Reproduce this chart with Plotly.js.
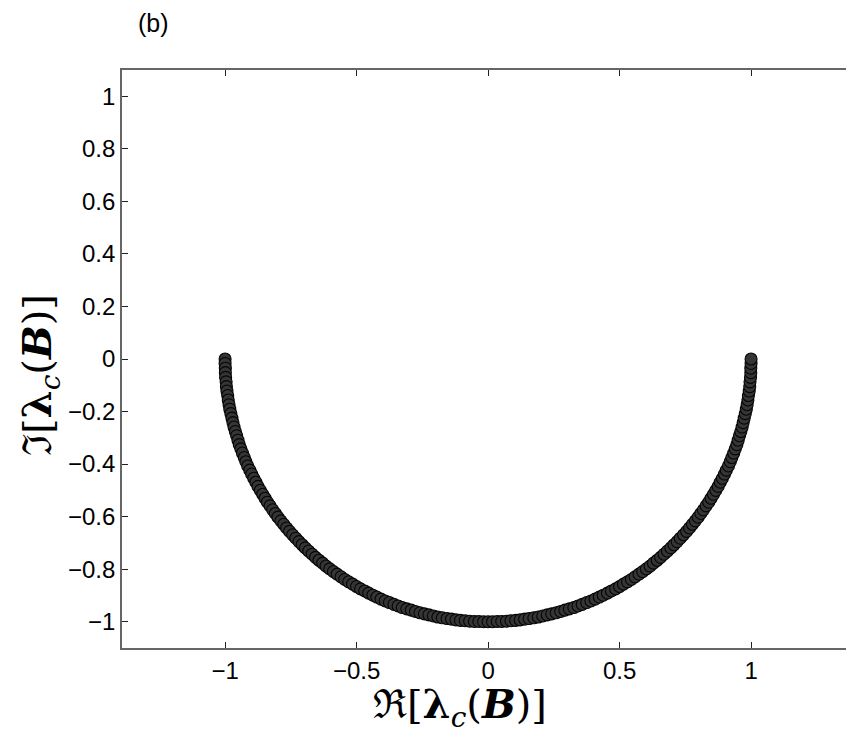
<!DOCTYPE html>
<html>
<head>
<meta charset="utf-8">
<script src="https://cdn.plot.ly/plotly-3.0.1.min.js"></script>
<style>html,body{margin:0;padding:0;background:#fff;}</style>
</head>
<body>
<div id="chart" style="width:846px;height:731px;"></div>
<script>
var reParts = [-1.000,-1.000,-0.999,-0.999,-0.998,-0.996,-0.995,-0.993,-0.990,-0.988,-0.985,-0.982,-0.978,-0.974,-0.970,-0.966,-0.961,-0.956,-0.951,-0.946,-0.940,-0.934,-0.927,-0.921,-0.914,-0.906,-0.899,-0.891,-0.883,-0.875,-0.866,-0.857,-0.848,-0.839,-0.829,-0.819,-0.809,-0.799,-0.788,-0.777,-0.766,-0.755,-0.743,-0.731,-0.719,-0.707,-0.695,-0.682,-0.669,-0.656,-0.643,-0.629,-0.616,-0.602,-0.588,-0.574,-0.559,-0.545,-0.530,-0.515,-0.500,-0.485,-0.469,-0.454,-0.438,-0.423,-0.407,-0.391,-0.375,-0.358,-0.342,-0.326,-0.309,-0.292,-0.276,-0.259,-0.242,-0.225,-0.208,-0.191,-0.174,-0.156,-0.139,-0.122,-0.105,-0.087,-0.070,-0.052,-0.035,-0.017,0.000,
  0.017,0.035,0.052,0.070,0.087,0.105,0.122,0.139,0.156,0.174,0.191,0.208,0.225,0.242,0.259,0.276,0.292,0.309,0.326,0.342,0.358,0.375,0.391,0.407,0.423,0.438,0.454,0.469,0.485,0.500,0.515,0.530,0.545,0.559,0.574,0.588,0.602,0.616,0.629,0.643,0.656,0.669,0.682,0.695,0.707,0.719,0.731,0.743,0.755,0.766,0.777,0.788,0.799,0.809,0.819,0.829,0.839,0.848,0.857,0.866,0.875,0.883,0.891,0.899,0.906,0.914,0.921,0.927,0.934,0.940,0.946,0.951,0.956,0.961,0.966,0.970,0.974,0.978,0.982,0.985,0.988,0.990,0.993,0.995,0.996,0.998,0.999,0.999,1.000,1.000];
var imParts = [0.000,-0.017,-0.035,-0.052,-0.070,-0.087,-0.105,-0.122,-0.139,-0.156,-0.174,-0.191,-0.208,-0.225,-0.242,-0.259,-0.276,-0.292,-0.309,-0.326,-0.342,-0.358,-0.375,-0.391,-0.407,-0.423,-0.438,-0.454,-0.469,-0.485,-0.500,-0.515,-0.530,-0.545,-0.559,-0.574,-0.588,-0.602,-0.616,-0.629,-0.643,-0.656,-0.669,-0.682,-0.695,-0.707,-0.719,-0.731,-0.743,-0.755,-0.766,-0.777,-0.788,-0.799,-0.809,-0.819,-0.829,-0.839,-0.848,-0.857,-0.866,-0.875,-0.883,-0.891,-0.899,-0.906,-0.914,-0.921,-0.927,-0.934,-0.940,-0.946,-0.951,-0.956,-0.961,-0.966,-0.970,-0.974,-0.978,-0.982,-0.985,-0.988,-0.990,-0.993,-0.995,-0.996,-0.998,-0.999,-0.999,-1.000,-1.000,
  -1.000,-0.999,-0.999,-0.998,-0.996,-0.995,-0.993,-0.990,-0.988,-0.985,-0.982,-0.978,-0.974,-0.970,-0.966,-0.961,-0.956,-0.951,-0.946,-0.940,-0.934,-0.927,-0.921,-0.914,-0.906,-0.899,-0.891,-0.883,-0.875,-0.866,-0.857,-0.848,-0.839,-0.829,-0.819,-0.809,-0.799,-0.788,-0.777,-0.766,-0.755,-0.743,-0.731,-0.719,-0.707,-0.695,-0.682,-0.669,-0.656,-0.643,-0.629,-0.616,-0.602,-0.588,-0.574,-0.559,-0.545,-0.530,-0.515,-0.500,-0.485,-0.469,-0.454,-0.438,-0.423,-0.407,-0.391,-0.375,-0.358,-0.342,-0.326,-0.309,-0.292,-0.276,-0.259,-0.242,-0.225,-0.208,-0.191,-0.174,-0.156,-0.139,-0.122,-0.105,-0.087,-0.070,-0.052,-0.035,-0.017,0.000];

var xTickVals = [-1, -0.5, 0, 0.5, 1];
var xTickText = ["\u22121", "\u22120.5", "0", "0.5", "1"];
var yTickVals = [-1, -0.8, -0.6, -0.4, -0.2, 0, 0.2, 0.4, 0.6, 0.8, 1];
var yTickText = ["\u22121", "\u22120.8", "\u22120.6", "\u22120.4", "\u22120.2", "0", "0.2", "0.4", "0.6", "0.8", "1"];
var panelLabel = "(b)";
var xTitle = "\u211C[<b>\u03BB</b><sub><i>c</i></sub>(<b><i>B</i></b>)]";
var yTitle = "\u2111[<b>\u03BB</b><sub><i>c</i></sub>(<b><i>B</i></b>)]";

var traces = [
  {
    x: reParts, y: imParts, type: 'scatter', mode: 'markers',
    marker: {symbol: 'circle', size: 12, color: '#353535', line: {width: 1.1, color: '#050505'}},
    showlegend: false
  }
];

var tickFont = {family: 'Liberation Sans, Arial, sans-serif', size: 24, color: '#000'};
var titleFont = {family: 'DejaVu Serif, Liberation Serif, serif', size: 40, color: '#000'};
var layout = {
  width: 846, height: 731,
  paper_bgcolor: '#fff', plot_bgcolor: '#fff',
  margin: {l: 122, r: 0, t: 70, b: 83},
  showlegend: false,
  xaxis: {
    range: [-1.392, 1.361],
    tickvals: xTickVals, ticktext: xTickText,
    ticks: 'inside', ticklen: 6, tickwidth: 1, tickcolor: '#222',
    showline: true, linecolor: '#666', linewidth: 1.8, mirror: 'ticks',
    showgrid: false, zeroline: false,
    tickfont: tickFont
  },
  yaxis: {
    range: [-1.1, 1.1],
    tickvals: yTickVals, ticktext: yTickText,
    ticks: 'inside', ticklen: 6, tickwidth: 1, tickcolor: '#222',
    showline: true, linecolor: '#666', linewidth: 1.8, mirror: false,
    showgrid: false, zeroline: false,
    tickfont: tickFont
  },
  annotations: [
    {text: panelLabel, xref: 'paper', yref: 'paper',
     x: (153 - 122) / 724, y: 1 + (70 - 23) / 578, xanchor: 'center', yanchor: 'middle',
     showarrow: false, font: {family: 'Liberation Sans, Arial, sans-serif', size: 25, color: '#000'}},
    {text: xTitle, xref: 'paper', yref: 'paper',
     x: (460 - 122) / 724, y: -(707 - 648) / 578, xanchor: 'center', yanchor: 'middle',
     height: 46, borderpad: 0, valign: 'middle',
     showarrow: false, font: titleFont},
    {text: yTitle, xref: 'paper', yref: 'paper', textangle: -90,
     x: -(122 - 40) / 724, y: (648 - 375) / 578, xanchor: 'center', yanchor: 'middle',
     height: 46, borderpad: 0, valign: 'middle',
     showarrow: false, font: titleFont}
  ]
};

Plotly.newPlot('chart', traces, layout, {displayModeBar: false, staticPlot: true});
</script>
</body>
</html>
